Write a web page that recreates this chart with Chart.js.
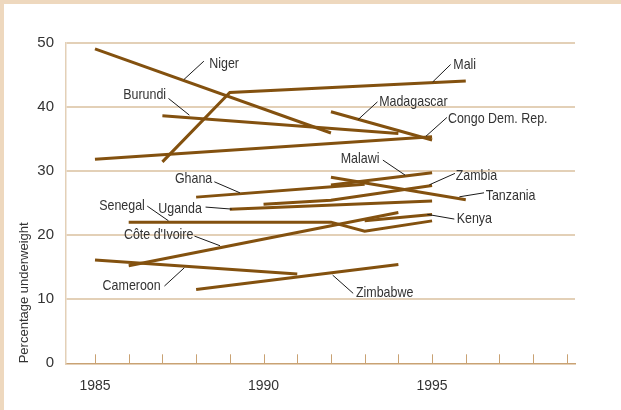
<!DOCTYPE html>
<html>
<head>
<meta charset="utf-8">
<script src="https://cdn.jsdelivr.net/npm/chart.js@4.4.1/dist/chart.umd.min.js"></script>
<style>
  html, body { margin: 0; padding: 0; background: #fff; }
  #frame { width: 621px; height: 410px; background: #eed8be; position: relative; overflow: hidden; }
  #wrap { position: absolute; left: 4px; top: 4px; width: 617px; height: 406px; background: #fff; }
</style>
</head>
<body>
<div id="frame"><div id="wrap"><canvas id="chart" width="617" height="406"></canvas></div></div>
<script>
// survey series
const countries = ['Niger', 'Mali', 'Burundi', 'Congo Dem. Rep.', 'Madagascar', 'Malawi', 'Ghana',
  'Zambia', 'Tanzania', 'Uganda', 'Senegal', 'Kenya', "Côte d'Ivoire", 'Cameroon', 'Zimbabwe'];
const surveyYears = [
  [1985, 1992], [1987, 1989, 1996], [1987, 1994], [1985, 1995], [1992, 1995], [1992, 1995],
  [1988, 1993], [1990, 1992, 1995], [1992, 1996], [1989, 1995], [1986, 1992, 1993, 1995],
  [1993, 1995], [1986, 1994], [1985, 1991], [1988, 1994]
];
const underweight = [
  [49.0, 35.9], [31.4, 42.2, 44.0], [38.6, 35.8], [31.8, 35.3], [39.2, 34.8], [27.8, 29.7],
  [25.9, 27.9], [24.8, 25.4, 27.7], [29.0, 25.5], [24.0, 25.3], [22.0, 22.0, 20.6, 22.2],
  [22.2, 23.2], [15.2, 23.5], [16.1, 13.9], [11.5, 15.4]
];
const yTicks = [0, 10, 20, 30, 40, 50];
const xTickYears = [1985, 1986, 1987, 1988, 1989, 1990, 1991, 1992, 1993, 1994, 1995, 1996, 1997, 1998, 1999];
const xTickLabels = ['1985', '1990', '1995'];

// country name callouts (data units)
const notes = [
  { text: 'Niger', at: [1988.39, 46.6], align: 'left', from: [1987.64, 44.24], to: [1988.23, 47.09] },
  { text: 'Burundi', at: [1987.11, 41.9], align: 'right', from: [1987.18, 41.28], to: [1987.80, 38.68] },
  { text: 'Mali', at: [1995.63, 46.5], align: 'left', from: [1995.02, 43.86], to: [1995.55, 46.57] },
  { text: 'Madagascar', at: [1993.43, 40.81], align: 'left', from: [1992.81, 38.01], to: [1993.38, 40.75] },
  { text: 'Congo Dem. Rep.', at: [1995.47, 38.16], align: 'left', from: [1994.82, 35.40], to: [1995.44, 38.32] },
  { text: 'Malawi', at: [1993.44, 31.82], align: 'right', from: [1993.54, 31.67], to: [1994.20, 29.33] },
  { text: 'Zambia', at: [1995.70, 29.17], align: 'left', from: [1994.92, 27.82], to: [1995.68, 29.60] },
  { text: 'Tanzania', at: [1996.59, 26.17], align: 'left', from: [1995.81, 25.95], to: [1996.54, 26.57] },
  { text: 'Kenya', at: [1995.73, 22.48], align: 'left', from: [1994.86, 23.21], to: [1995.66, 22.48] },
  { text: 'Ghana', at: [1988.48, 28.71], align: 'right', from: [1988.54, 28.29], to: [1989.30, 26.57] },
  { text: 'Senegal', at: [1986.48, 24.5], align: 'right', from: [1986.55, 24.50], to: [1987.18, 22.21] },
  { text: 'Uganda', at: [1988.17, 24.14], align: 'right', from: [1988.28, 24.35], to: [1989.06, 24.03] },
  { text: "Côte d'Ivoire", at: [1987.92, 19.98], align: 'right', from: [1987.95, 19.83], to: [1988.71, 18.32] },
  { text: 'Cameroon', at: [1986.95, 12.09], align: 'right', from: [1987.06, 12.04], to: [1987.65, 14.89] },
  { text: 'Zimbabwe', at: [1992.74, 11.0], align: 'left', from: [1992.05, 13.75], to: [1992.66, 10.90] }
];

const fontFamily = '"Liberation Sans", Arial, sans-serif';
const lineColor = '#83510f';
const narrow = 0.83; // squeeze callout text to look condensed

const datasets = countries.map((name, i) => ({
  label: name,
  data: surveyYears[i].map((yr, j) => ({ x: yr, y: underweight[i][j] })),
  borderColor: lineColor,
  borderWidth: 3,
  borderCapStyle: 'butt',
  pointRadius: 0,
  tension: 0,
  fill: false
}));

const notesPlugin = {
  id: 'notes',
  beforeDatasetsDraw(chart) {
    // small ticks pointing up from the x axis
    const { ctx, scales: { x, y } } = chart;
    ctx.save();
    ctx.strokeStyle = '#c9a273';
    ctx.lineWidth = 1;
    xTickYears.forEach(yr => {
      const px = Math.round(x.getPixelForValue(yr)) + 0.5;
      ctx.beginPath();
      ctx.moveTo(px, y.bottom - 9);
      ctx.lineTo(px, y.bottom);
      ctx.stroke();
    });
    ctx.restore();
  },
  afterDatasetsDraw(chart) {
    const { ctx, scales: { x, y } } = chart;
    ctx.save();
    ctx.strokeStyle = '#1a1a1a';
    ctx.lineWidth = 1;
    ctx.fillStyle = '#333';
    ctx.font = '15px ' + fontFamily;
    ctx.textBaseline = 'middle';
    notes.forEach(n => {
      ctx.beginPath();
      ctx.moveTo(x.getPixelForValue(n.from[0]), y.getPixelForValue(n.from[1]));
      ctx.lineTo(x.getPixelForValue(n.to[0]), y.getPixelForValue(n.to[1]));
      ctx.stroke();
      ctx.save();
      ctx.translate(x.getPixelForValue(n.at[0]), y.getPixelForValue(n.at[1]));
      ctx.scale(narrow, 1);
      ctx.textAlign = n.align;
      ctx.fillText(n.text, 0, 0);
      ctx.restore();
    });
    ctx.restore();
  }
};

new Chart(document.getElementById('chart').getContext('2d'), {
  type: 'line',
  data: { datasets: datasets },
  options: {
    responsive: false,
    animation: false,
    layout: { padding: { top: 38.5, right: 46, left: 0, bottom: 0 } },
    plugins: { legend: { display: false }, tooltip: { enabled: false } },
    scales: {
      x: {
        type: 'linear',
        min: 1984.14,
        max: 1999.24,
        afterBuildTicks: s => { s.ticks = xTickYears.map(v => ({ value: v })); },
        afterFit: s => { s.height = 46.7; },
        grid: { display: false, drawTicks: false },
        border: { display: true, color: '#c9a273', width: 1.5 },
        ticks: {
          autoSkip: false,
          maxRotation: 0,
          padding: 14,
          color: '#333',
          font: { family: fontFamily, size: 14 },
          callback: v => xTickLabels.includes(String(v)) ? String(v) : ''
        }
      },
      y: {
        min: 0,
        max: 50,
        afterBuildTicks: s => { s.ticks = yTicks.map(v => ({ value: v })); },
        afterFit: s => { s.width = 62; },
        grid: {
          color: c => (c.tick && c.tick.value === 0) ? 'rgba(0,0,0,0)' : '#e3d0b7',
          lineWidth: 2,
          drawTicks: false
        },
        border: { color: '#e3d0b7', width: 1.5 },
        ticks: { padding: 12, color: '#333', font: { family: fontFamily, size: 15 } },
        title: {
          display: true,
          text: 'Percentage underweight',
          align: 'start',
          padding: { top: 13 },
          color: '#333',
          font: { family: fontFamily, size: 13 }
        }
      }
    }
  },
  plugins: [notesPlugin]
});
</script>
</body>
</html>
